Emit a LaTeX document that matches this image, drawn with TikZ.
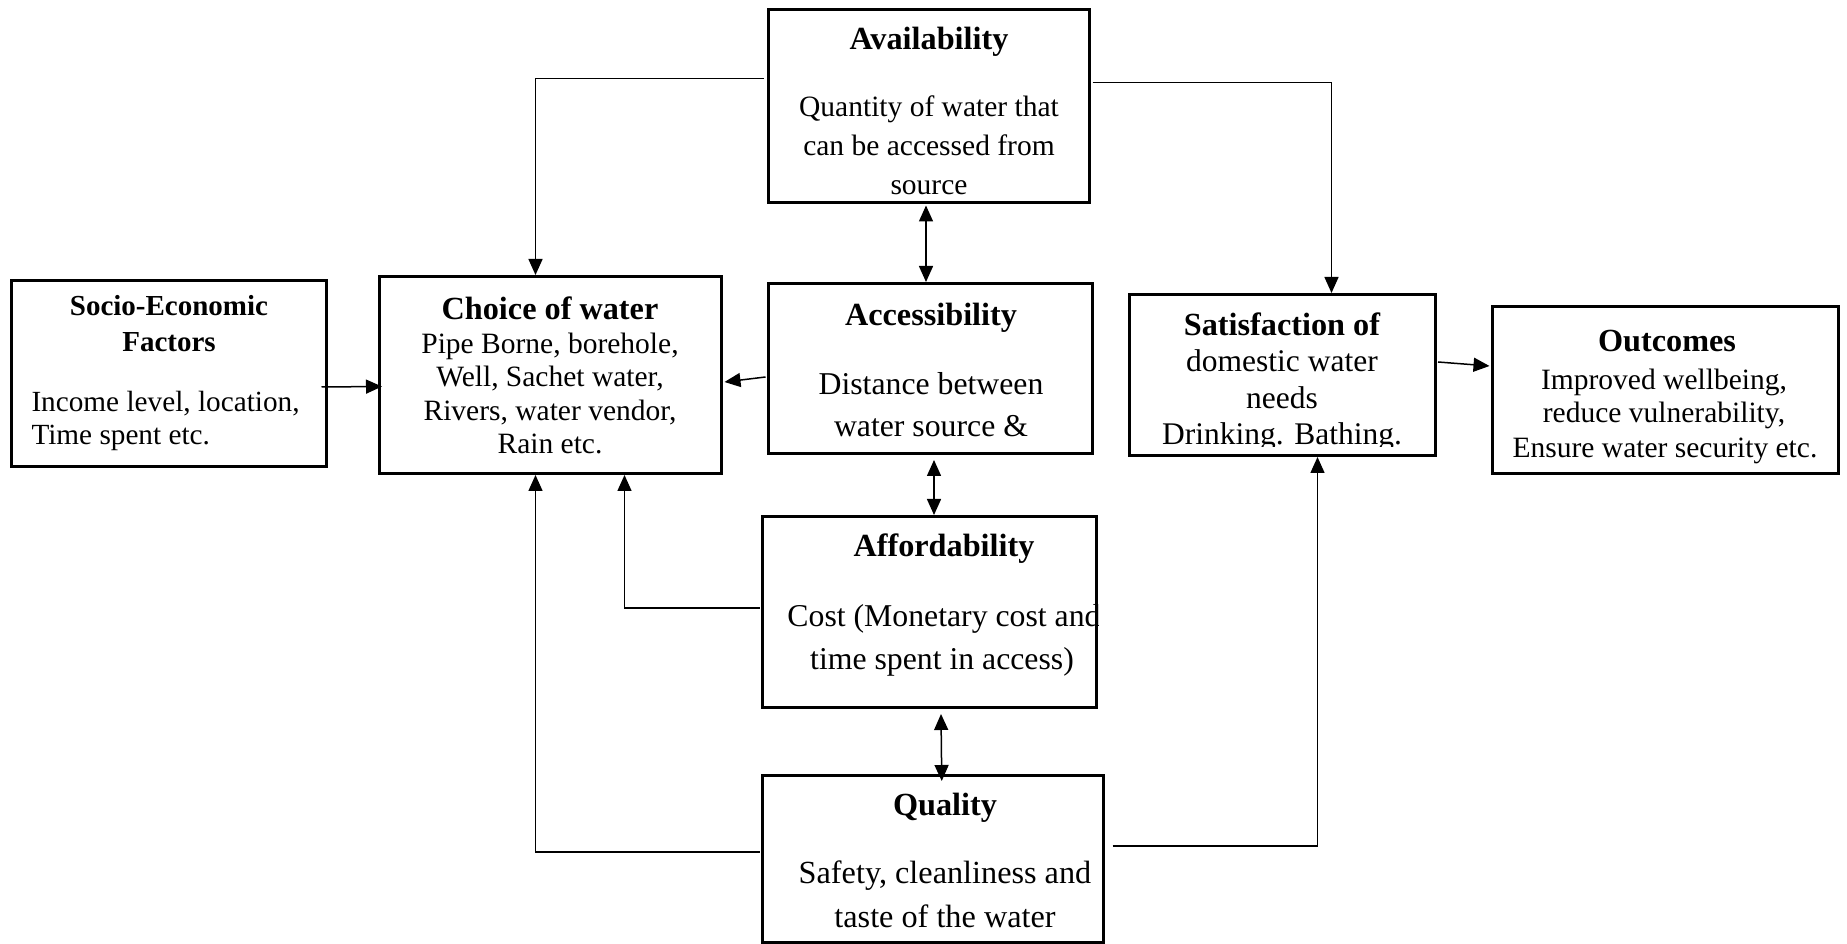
\documentclass[tikz,border=0pt]{standalone}
\usepackage{fontspec}
\setmainfont{Liberation Serif}
\usetikzlibrary{arrows.meta,calc,fit}
\begin{document}
\begin{tikzpicture}[x=0.4pt,y=-0.4pt,
  box/.style={draw, line width=1.2pt, inner sep=0pt},
  ttl/.style={anchor=base, inner sep=0pt, font=\bfseries\fontsize{12.9}{14}\selectfont},
  txt/.style={anchor=base, inner sep=0pt, font=\fontsize{11.8}{14}\selectfont},
  txtb/.style={anchor=base, inner sep=0pt, font=\fontsize{12.7}{14}\selectfont},
  arr/.style={line width=0.6pt, -{Triangle[length=6.4pt,width=5.6pt]}},
  darr/.style={line width=0.6pt, {Triangle[length=6.4pt,width=5.6pt]}-{Triangle[length=6.4pt,width=5.6pt]}}]
\useasboundingbox (0,0) rectangle (1847,944);

% boxes
\node[box, fit={(11.5,280.5) (326.5,466.5)}] (socio) {};
\node[box, fit={(379.5,276.5) (721.5,473.5)}] (choice) {};
\node[box, fit={(768.5,9.5) (1089.5,202.5)}] (avail) {};
\node[box, fit={(768.5,283.5) (1092.5,453.5)}] (access) {};
\node[box, fit={(762.5,516.5) (1096.5,707.5)}] (afford) {};
\node[box, fit={(762.5,775.5) (1103,942)}] (quality) {};
\node[box, fit={(1129.5,294.5) (1435.5,455.5)}] (satis) {};
\node[box, fit={(1492.5,306.5) (1838.5,473.5)}] (outc) {};

% Socio-Economic Factors
\node[ttl, font=\bfseries\fontsize{11.6}{13}\selectfont] (sociot1) at (169,316) {Socio-Economic};
\node[ttl, font=\bfseries\fontsize{11.6}{13}\selectfont] (sociot2) at (169,352) {Factors};
\node[txt, anchor=base west, font=\fontsize{11.7}{13}\selectfont] (socio1) at (31,412) {Income level, location,};
\node[txt, anchor=base west, font=\fontsize{11.7}{13}\selectfont] (socio2) at (31,445) {Time spent etc.};

% Choice of water
\node[ttl] (choicet) at (550,320) {Choice of water};
\node[txt] (choice1) at (550,354) {Pipe Borne, borehole,};
\node[txt] (choice2) at (550,387) {Well, Sachet water,};
\node[txt] (choice3) at (550,420.5) {Rivers, water vendor,};
\node[txt] (choice4) at (550,454) {Rain etc.};

% Availability
\node[ttl] (availt) at (929,50) {Availability};
\node[txt] (avail1) at (929,117) {Quantity of water that};
\node[txt] (avail2) at (929,156) {can be accessed from};
\node[txt] (avail3) at (929,195) {source};

% Accessibility
\node[ttl] (accesst) at (931,326) {Accessibility};
\node[txtb] (access1) at (931,395) {Distance between};
\node[txtb] (access2) at (931,437) {water source \&};

% Affordability
\node[ttl] (affordt) at (944,557) {Affordability};
\begin{scope}
  \clip (afford.south west) rectangle (afford.north east);
  \node[txtb] (afford1) at (944,627) {Cost (Monetary cost and};
\end{scope}
\node[txtb] (afford2) at (942,670) {time spent in access)};

% Quality
\node[ttl] (qualityt) at (945,816) {Quality};
\node[txtb, font=\fontsize{12.9}{14}\selectfont] (quality1) at (945,884) {Safety, cleanliness and};
\node[txtb, font=\fontsize{12.9}{14}\selectfont] (quality2) at (945,927) {taste of the water};

% Satisfaction
\node[ttl] (satist) at (1282,336) {Satisfaction of};
\node[txt, font=\fontsize{12.6}{14}\selectfont] (satis1) at (1282,372) {domestic water};
\node[txt, font=\fontsize{12.6}{14}\selectfont] (satis2) at (1282,409) {needs};
\begin{scope}
  \clip (1131,298) rectangle (1434,447);
  \node[txt, font=\fontsize{12.6}{14}\selectfont] (satis3) at (1282,445) {Drinking. Bathing.};
\end{scope}

% Outcomes
\node[ttl] (outct) at (1667,352) {Outcomes};
\node[txt] (outc1) at (1664,390) {Improved wellbeing,};
\node[txt] (outc2) at (1664,423) {reduce vulnerability,};
\node[txt] (outc3) at (1665,458) {Ensure water security etc.};

% connectors
\draw[arr] ($(avail.north west)+(-3,70.5)$) -| ($(choice.north west)+(157.5,0)$);
\draw[arr] ($(avail.north east)+(1.5,74.5)$) -| ($(satis.north west)+(203.5,0)$);
\draw[darr] ($(avail.south)+(-3,1.5)$) -- ($(access.north)+(-4.5,0)$);
\draw[darr] ($(access.south)+(3.5,5)$) -- ($(afford.north)+(4.5,0)$);
\draw[darr] ($(afford.south)+(11.5,5)$) -- ($(quality.north)+(9,7)$);
\draw[arr] ($(socio.east)+(-6.5,13.5)$) -- ($(choice.west)+(4,11.5)$);
\draw[arr] ($(access.west)+(-1.5,8.5)$) -- ($(choice.east)+(1.5,7)$);
\draw[arr] ($(afford.west)+(-1.5,-4)$) -| ($(choice.south west)+(246.5,0)$);
\draw[arr] ($(quality.west)+(-1.5,-6.75)$) -| ($(choice.south west)+(157.5,0)$);
\draw[arr] ($(quality.east)+(8,-12.75)$) -| ($(satis.south west)+(189.5,0)$);
\draw[arr] ($(satis.east)+(1,-13)$) -- ($(outc.west)+(-1.5,-24)$);
\end{tikzpicture}
\end{document}
